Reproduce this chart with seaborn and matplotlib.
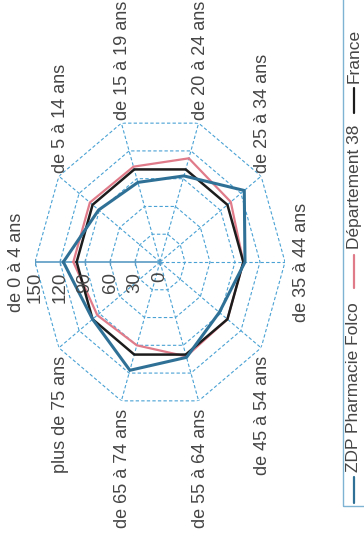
import numpy as np
import pandas as pd
import matplotlib
matplotlib.use("Agg")
import matplotlib.pyplot as plt
import seaborn as sns
from matplotlib.patches import Rectangle

# Data (index, France = 100)
categories = ["de 0 à 4 ans", "de 5 à 14 ans", "de 15 à 19 ans", "de 20 à 24 ans",
              "de 25 à 34 ans", "de 35 à 44 ans", "de 45 à 54 ans", "de 55 à 64 ans",
              "de 65 à 74 ans", "plus de 75 ans"]
zdp = [116, 91, 86, 93, 125, 102, 88, 103, 117, 100]
dept38 = [104, 104, 103, 112, 105, 100, 100, 102, 90, 93]
france = [100, 100, 100, 100, 100, 100, 100, 100, 100, 100]
r_ticks = [0, 30, 60, 90, 120, 150]
series_names = ["ZDP Pharmacie Folco", "Département 38", "France"]

colors = {"ZDP Pharmacie Folco": "#2f7196", "Département 38": "#e07b8a", "France": "#1c1c1c"}
widths = {"ZDP Pharmacie Folco": 2.2, "Département 38": 1.6, "France": 1.8}
grid_col = "#4aa2d4"
axis_col = "#5a9cc5"
text_col = "#454545"

sns.set_style("white")
plt.rcParams['font.family'] = ['Liberation Sans', 'DejaVu Sans']

W, H = 364, 540
fig = plt.figure(figsize=(W / 100, H / 100), dpi=100)
fig.patch.set_facecolor("white")

# polar axes stretched into an ellipse like the scanned original (rotated a quarter turn)
ax = fig.add_axes([35 / W, (H - 408) / H, 250 / W, 292 / H], projection="polar")
ax.set_aspect("auto")
ax.set_theta_zero_location("W")
ax.set_theta_direction(-1)
ax.set_facecolor("none")

n = len(categories)
theta = np.linspace(0, 2 * np.pi, n, endpoint=False)
closed = np.append(theta, 2 * np.pi)

# polygon grid and spokes
for r in r_ticks[1:]:
    ax.plot(closed, [r] * len(closed), color=grid_col, lw=0.8, ls=(0, (3, 2)), zorder=1)
for t in theta[1:]:
    ax.plot([t, t], [0, r_ticks[-1]], color=grid_col, lw=0.8, ls=(0, (3, 2)), zorder=1)
ax.plot([0, 0], [0, r_ticks[-1]], color=axis_col, lw=1.2, zorder=1)
ax.plot([0] * len(r_ticks), r_ticks, ls="none", marker="|", ms=5, color=axis_col, zorder=1)

# series
rows = []
for name, vals in zip(series_names, [zdp, dept38, france]):
    for t, v in zip(closed, vals + vals[:1]):
        rows.append({"theta": t, "value": v, "serie": name})
df = pd.DataFrame(rows)

for name in ["Département 38", "France", "ZDP Pharmacie Folco"]:
    sns.lineplot(data=df[df["serie"] == name], x="theta", y="value", sort=False,
                 estimator=None, color=colors[name], lw=widths[name], ax=ax, zorder=3)

ax.set_xlim(0, 2 * np.pi)
ax.set_ylim(0, r_ticks[-1])
ax.set_xticks([])
ax.set_yticks([])
ax.grid(False)
ax.spines["polar"].set_visible(False)
ax.set_xlabel("")
ax.set_ylabel("")

# category labels (rotated text)
fs = 13
for t, lab in zip(theta, categories):
    s, c = np.sin(t), np.cos(t)
    if abs(s) < 0.01:
        if c > 0:
            ha, off = "right", (-7, 0)
        else:
            ha, off = "left", (6, 0)
        va = "center"
    elif s > 0:
        ha, va, off = "center", "bottom", (1, 2)
    else:
        ha, va, off = "center", "top", (1, -6)
    ax.annotate(lab, xy=(t, r_ticks[-1]), xytext=off, textcoords="offset points",
                rotation=90, ha=ha, va=va, fontsize=fs, color=text_col,
                annotation_clip=False)

# radial tick labels along the first axis
for r in r_ticks:
    ax.annotate(str(r), xy=(0, r), xytext=(0, -7), textcoords="offset points",
                rotation=90, ha="center", va="top", fontsize=13.5, color=text_col,
                annotation_clip=False)


# legend drawn by hand, rotated like the rest
def fx(px):
    return px / W


def fy(py):
    return (H - py) / H


fig.patches.append(Rectangle((fx(343), fy(506)), fx(40), 510 / H, transform=fig.transFigure,
                             fill=False, edgecolor="#7fb3d3", lw=1.0))
legend_pos = {"ZDP Pharmacie Folco": (503, 477, 472),
              "Département 38": (288, 255, 249),
              "France": (113, 88, 83)}
for name in series_names:
    y0, y1, ytxt = legend_pos[name]
    fig.add_artist(plt.Line2D([fx(354), fx(354)], [fy(y0), fy(y1)], transform=fig.transFigure,
                              color=colors[name], lw=1.6))
    fig.text(fx(354), fy(ytxt), name, rotation=90, ha="center", va="bottom",
             fontsize=12.5, color=text_col)

fig.savefig("out.png", dpi=100, facecolor="white")
